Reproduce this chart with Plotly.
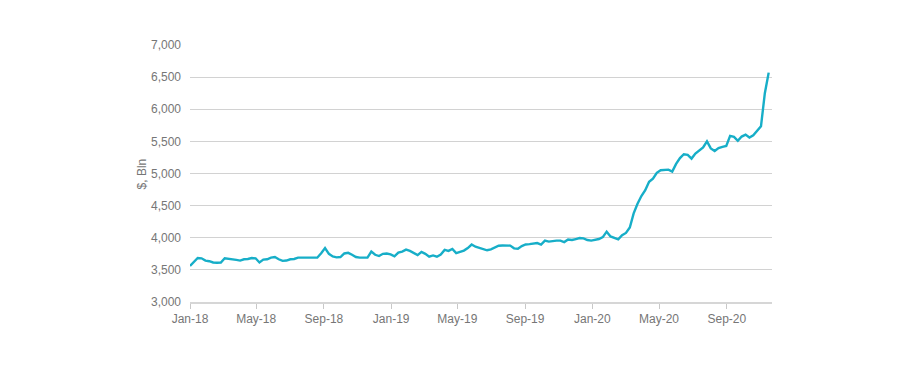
import pandas as pd
import plotly.graph_objects as go

# Weekly series, starting first week of Jan 2018 ($, Bln)
start_date = "2018-01-01"
values = [
    3560, 3620, 3685, 3680, 3645, 3635, 3615, 3610, 3615, 3680,
    3675, 3665, 3655, 3645, 3665, 3670, 3685, 3680, 3615, 3660,
    3665, 3690, 3700, 3665, 3640, 3645, 3665, 3670, 3690, 3690,
    3690, 3690, 3690, 3690, 3760, 3840, 3750, 3710, 3695, 3700,
    3755, 3765, 3735, 3700, 3690, 3690, 3690, 3785, 3735, 3715,
    3750, 3755, 3740, 3710, 3770, 3785, 3815, 3795, 3765, 3730,
    3780, 3750, 3705, 3725, 3705, 3740, 3810, 3795, 3825, 3760,
    3780, 3800, 3840, 3895, 3860, 3840, 3825, 3805, 3820, 3850,
    3875, 3880, 3880, 3878, 3835, 3830, 3870, 3895, 3900, 3905,
    3918, 3895, 3955, 3940, 3950, 3955, 3955, 3932, 3972, 3965,
    3980, 3995, 3990, 3965, 3955, 3965, 3980, 4010, 4095, 4020,
    3995, 3975, 4040, 4075, 4160, 4380, 4530, 4650, 4740, 4870,
    4920, 5010, 5050, 5058, 5060, 5030, 5150, 5240, 5300, 5290,
    5232, 5310, 5365, 5405, 5500, 5390, 5350, 5395, 5415, 5430,
    5585, 5570, 5508, 5575, 5605, 5560, 5595, 5660, 5735, 6250,
    6570,
]
dates = pd.date_range(start_date, periods=len(values), freq="7D")

y_title = "$, Bln"
line_color = "#17aec8"
text_color = "#767676"
grid_color = "#d2d2d2"

fig = go.Figure()
fig.add_trace(go.Scatter(
    x=dates, y=values, mode="lines",
    line=dict(color=line_color, width=2.4),
    hoverinfo="skip", showlegend=False,
))

fig.update_layout(
    width=900, height=367,
    margin=dict(l=190, r=128, t=45, b=65),
    paper_bgcolor="white", plot_bgcolor="white",
    font=dict(family="Liberation Sans, Arial, sans-serif", size=12, color=text_color),
    xaxis=dict(
        range=[dates[0], dates[-1] + pd.Timedelta(days=6)],
        tickmode="linear", tick0="2018-01-01", dtick="M4",
        tickformat="%b-%y",
        showgrid=False, zeroline=False,
        showline=True, linecolor="#d6d6d6", linewidth=2,
        ticks="outside", ticklen=5, tickcolor="#c8c8c8", tickwidth=1,
        tickfont=dict(size=12, color=text_color),
        automargin=False,
    ),
    yaxis=dict(
        range=[3000, 7000], tickmode="linear", tick0=3000, dtick=500,
        tickformat=",d",
        showgrid=True, gridcolor=grid_color, gridwidth=1,
        zeroline=False, showline=False,
        ticks="", ticklabelstandoff=8,
        tickfont=dict(size=12, color=text_color),
        automargin=False,
    ),
    annotations=[dict(
        text=y_title, xref="paper", yref="paper",
        x=-0.098, y=0.5, showarrow=False, textangle=-90,
        font=dict(size=12, color=text_color),
    )],
)

fig.write_html("out.html")
